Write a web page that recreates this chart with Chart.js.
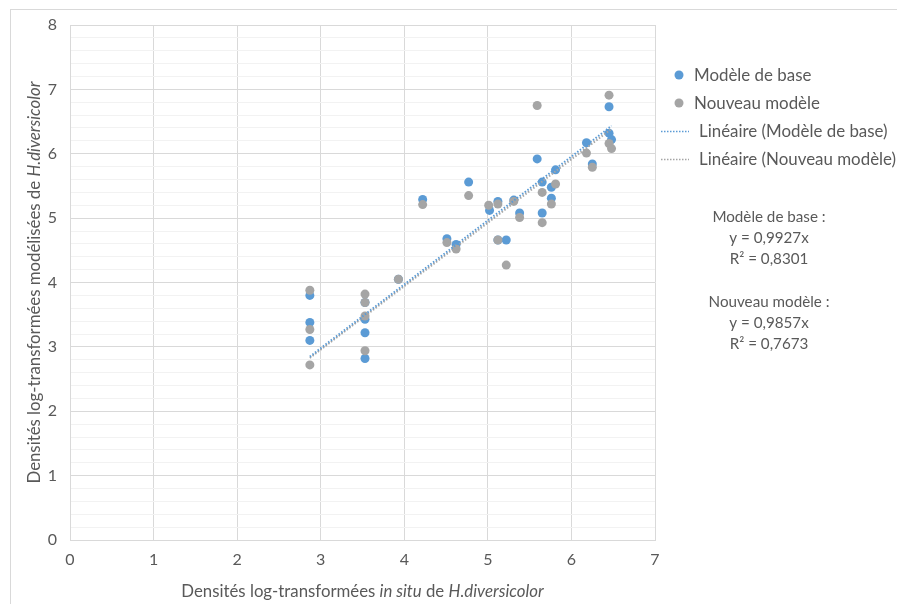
<!DOCTYPE html>
<html>
<head>
<meta charset="utf-8">
<script src="https://cdn.jsdelivr.net/npm/chart.js@4.4.1/dist/chart.umd.min.js"></script>
<style>
  html, body { margin: 0; padding: 0; background: #fff; }
  #wrap { width: 897px; height: 604px; position: relative; }
</style>
</head>
<body>
<div id="wrap"><canvas id="densites" width="897" height="604"></canvas></div>
<script>
// observed (in situ) vs modelled log densities, two model versions
var baseX = [2.87, 2.87, 2.87, 3.53, 3.53, 3.53, 3.53, 3.93, 4.22, 4.51, 4.62, 4.77, 5.02, 5.12, 5.12,
             5.22, 5.31, 5.38, 5.59, 5.65, 5.65, 5.76, 5.76, 5.81, 6.18, 6.25, 6.45, 6.45, 6.48];
var baseY = [3.80, 3.38, 3.10, 3.69, 3.43, 3.22, 2.82, 4.05, 5.29, 4.68, 4.59, 5.56, 5.12, 5.26, 4.66,
             4.66, 5.28, 5.08, 5.92, 5.56, 5.08, 5.48, 5.31, 5.75, 6.17, 5.84, 6.73, 6.32, 6.22];
var newX = [2.87, 2.87, 2.87, 3.53, 3.53, 3.53, 3.53, 3.93, 4.22, 4.51, 4.62, 4.77, 5.01, 5.12, 5.12,
            5.22, 5.31, 5.38, 5.59, 5.65, 5.65, 5.76, 5.81, 6.18, 6.25, 6.45, 6.45, 6.48];
var newY = [3.88, 3.27, 2.72, 3.69, 3.48, 3.82, 2.94, 4.05, 5.21, 4.62, 4.52, 5.35, 5.20, 5.22, 4.66,
            4.27, 5.26, 5.01, 6.75, 5.40, 4.93, 5.22, 5.53, 6.01, 5.79, 6.91, 6.16, 6.08];

// trend lines forced through the origin
var slopeBase = 0.9927, r2Base = '0,8301';
var slopeNew = 0.9857, r2New = '0,7673';

var seriesNames = ['Modèle de base', 'Nouveau modèle', 'Linéaire (Modèle de base)', 'Linéaire (Nouveau modèle)'];
var xTicks = [0, 1, 2, 3, 4, 5, 6, 7];
var yTicks = [0, 1, 2, 3, 4, 5, 6, 7, 8];

var blue = '#5B9BD5';
var grey = '#A5A5A5';
var textColor = '#595959';
var fontFamily = 'Lato, "Liberation Sans", sans-serif';

function toPoints(xs, ys) {
    var pts = [];
    for (var i = 0; i < xs.length; i++) {
        pts.push({x: xs[i], y: ys[i]});
    }
    return pts;
}

function trend(xs, slope) {
    var lo = Math.min.apply(null, xs);
    var hi = Math.max.apply(null, xs);
    return [{x: lo, y: slope * lo}, {x: hi, y: slope * hi}];
}

function isMajor(v) {
    return Math.abs(v - Math.round(v)) < 1e-6;
}

// draws a line of text made of plain / italic runs, centred on cx
function drawRuns(ctx, runs, cx, cy, size) {
    var total = 0;
    runs.forEach(function (r) {
        ctx.font = (r[1] ? 'italic ' : '') + size + 'px ' + fontFamily;
        total += ctx.measureText(r[0]).width;
    });
    var x = cx - total / 2;
    runs.forEach(function (r) {
        ctx.font = (r[1] ? 'italic ' : '') + size + 'px ' + fontFamily;
        ctx.fillText(r[0], x, cy);
        x += ctx.measureText(r[0]).width;
    });
}

var decorations = {
    id: 'decorations',
    beforeDraw: function (chart) {
        var ctx = chart.ctx;
        ctx.save();
        ctx.strokeStyle = '#D9D9D9';
        ctx.lineWidth = 1;
        ctx.strokeRect(10.5, 9.5, 900, 610);
        ctx.restore();
    },
    afterDraw: function (chart) {
        var ctx = chart.ctx;
        var area = chart.chartArea;
        ctx.save();
        ctx.fillStyle = textColor;
        ctx.textBaseline = 'middle';
        ctx.textAlign = 'left';

        // axis titles
        drawRuns(ctx, [['Densités log-transformées ', false], ['in situ', true], [' de ', false], ['H.diversicolor', true]],
            (area.left + area.right) / 2, 592, 16.8);
        ctx.save();
        ctx.translate(35, (area.top + area.bottom) / 2);
        ctx.rotate(-Math.PI / 2);
        drawRuns(ctx, [['Densités log-transformées modélisées de ', false], ['H.diversicolor', true]], 0, 0, 16.8);
        ctx.restore();

        // legend
        var ly = [75, 103, 131, 159];
        ctx.font = '16.9px ' + fontFamily;
        [blue, grey].forEach(function (c, i) {
            ctx.fillStyle = c;
            ctx.beginPath();
            ctx.arc(679, ly[i], 4.5, 0, Math.PI * 2);
            ctx.fill();
            ctx.fillStyle = textColor;
            ctx.fillText(seriesNames[i], 694, ly[i] + 1);
        });
        [blue, grey].forEach(function (c, i) {
            ctx.strokeStyle = c;
            ctx.lineWidth = 1.5;
            ctx.setLineDash([1.5, 1.5]);
            ctx.beginPath();
            ctx.moveTo(661, ly[i + 2] + 0.5);
            ctx.lineTo(689, ly[i + 2] + 0.5);
            ctx.stroke();
            ctx.setLineDash([]);
            ctx.fillStyle = textColor;
            ctx.fillText(seriesNames[i + 2], 699, ly[i + 2] + 1);
        });

        // fit equations
        ctx.textAlign = 'center';
        ctx.font = '15.2px ' + fontFamily;
        var eq = [
            ['Modèle de base :', 217], ['y = ' + String(slopeBase).replace('.', ',') + 'x', 238], ['R² = ' + r2Base, 259],
            ['Nouveau modèle :', 302], ['y = ' + String(slopeNew).replace('.', ',') + 'x', 323], ['R² = ' + r2New, 344]
        ];
        eq.forEach(function (e) {
            ctx.fillText(e[0], 769, e[1]);
        });
        ctx.restore();
    }
};

var ctx = document.getElementById('densites');
var myChart = new Chart(ctx, {
    type: 'scatter',
    data: {
        datasets: [
            {
                label: seriesNames[0],
                data: toPoints(baseX, baseY),
                backgroundColor: blue,
                borderWidth: 0,
                pointRadius: 4.5,
                order: 3
            },
            {
                label: seriesNames[1],
                data: toPoints(newX, newY),
                backgroundColor: grey,
                borderWidth: 0,
                pointRadius: 4.5,
                order: 2
            },
            {
                label: seriesNames[2],
                data: trend(baseX, slopeBase),
                showLine: true,
                borderColor: blue,
                borderWidth: 2,
                borderDash: [1.5, 1.8],
                pointRadius: 0,
                order: 0
            },
            {
                label: seriesNames[3],
                data: trend(newX, slopeNew),
                showLine: true,
                borderColor: grey,
                borderWidth: 2,
                borderDash: [1.5, 1.8],
                pointRadius: 0,
                order: 1
            }
        ]
    },
    options: {
        responsive: false,
        animation: false,
        events: [],
        layout: {
            padding: {left: 0, top: 25, right: 242, bottom: 0}
        },
        plugins: {
            legend: {display: false},
            tooltip: {enabled: false}
        },
        scales: {
            x: {
                type: 'linear',
                min: 0,
                max: 7,
                afterFit: function (scale) { scale.height = 64; },
                afterBuildTicks: function (scale) {
                    scale.ticks = xTicks.map(function (v) { return {value: v}; });
                },
                ticks: {
                    color: textColor,
                    font: {family: fontFamily, size: 16},
                    padding: 10,
                    autoSkip: false,
                    maxRotation: 0
                },
                grid: {color: '#D9D9D9', drawTicks: false},
                border: {color: '#D9D9D9'}
            },
            y: {
                type: 'linear',
                min: 0,
                max: 8,
                afterFit: function (scale) { scale.width = 70; },
                afterBuildTicks: function (scale) {
                    var t = [];
                    for (var i = 0; i <= 40; i++) {
                        t.push({value: i / 5});
                    }
                    scale.ticks = t;
                },
                ticks: {
                    color: textColor,
                    font: {family: fontFamily, size: 16},
                    padding: 13,
                    autoSkip: false,
                    callback: function (v) {
                        return isMajor(v) && yTicks.indexOf(Math.round(v)) >= 0 ? String(Math.round(v)) : '';
                    }
                },
                grid: {
                    drawTicks: false,
                    color: function (c) {
                        return isMajor(c.tick.value) ? '#D9D9D9' : '#F2F2F2';
                    }
                },
                border: {color: '#D9D9D9'}
            }
        }
    },
    plugins: [decorations]
});
</script>
</body>
</html>
